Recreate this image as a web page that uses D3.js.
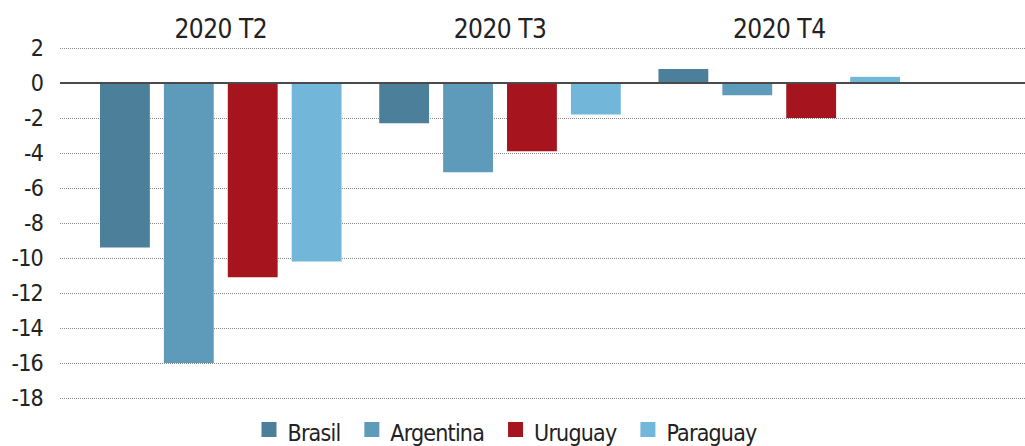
<!DOCTYPE html>
<html>
<head>
<meta charset="utf-8">
<script src="https://cdn.jsdelivr.net/npm/d3@7"></script>
<style>
  body { margin: 0; background: #fff; }
  svg { display: block; }
  text { font-family: "DejaVu Sans Condensed", "DejaVu Sans", sans-serif; fill: #222; }
</style>
</head>
<body>
<svg width="1025" height="446"></svg>
<script>
const quarters = ["2020 T2", "2020 T3", "2020 T4"];
const countries = ["Brasil", "Argentina", "Uruguay", "Paraguay"];
const colors = ["#4c7f99", "#5e9bba", "#a6141d", "#72b7da"];
// values per country, in the order of quarters
const brasil = [-9.4, -2.3, 0.8];
const argentina = [-16.0, -5.1, -0.7];
const uruguay = [-11.1, -3.9, -2.0];
const paraguay = [-10.2, -1.8, 0.35];
const yTicks = [2, 0, -2, -4, -6, -8, -10, -12, -14, -16, -18];

const series = [brasil, argentina, uruguay, paraguay];
const data = [];
quarters.forEach((q, i) => {
  countries.forEach((c, j) => {
    data.push({ quarter: q, country: c, value: series[j][i] });
  });
});

const svg = d3.select("svg");
const width = +svg.attr("width");
const height = +svg.attr("height");
const margin = { top: 48, right: 0, bottom: 48, left: 60 };

const y = d3.scaleLinear()
  .domain([-18, 2])
  .range([height - margin.bottom, margin.top]);

const x0 = d3.scaleBand()
  .domain(quarters)
  .range([100, 900])
  .paddingInner(0.135)
  .paddingOuter(0);

const x1 = d3.scaleBand()
  .domain(countries)
  .range([0, x0.bandwidth()])
  .paddingInner(0.22)
  .paddingOuter(0);

const color = d3.scaleOrdinal().domain(countries).range(colors);

// gridlines + tick labels (plain hyphen, like the original)
const yAxis = svg.append("g")
  .attr("transform", `translate(${margin.left},0)`)
  .call(d3.axisLeft(y)
    .tickValues(yTicks)
    .tickFormat(d => String(d))
    .tickSize(-(width - margin.left))
    .tickPadding(17));
yAxis.select(".domain").remove();
yAxis.selectAll(".tick line")
  .attr("stroke", "#8a8a8a")
  .attr("stroke-width", 1)
  .attr("stroke-dasharray", "1,1")
  .attr("opacity", d => d === 0 ? 0 : 1);
yAxis.selectAll(".tick text")
  .attr("font-size", 23)
  .attr("letter-spacing", -0.8)
  .attr("fill", "#222")
  .style("font-family", '"DejaVu Sans Condensed", "DejaVu Sans", sans-serif');

// bars
svg.append("g")
  .selectAll("rect")
  .data(data)
  .join("rect")
  .attr("x", d => x0(d.quarter) + x1(d.country))
  .attr("y", d => y(Math.max(0, d.value)))
  .attr("width", x1.bandwidth())
  .attr("height", d => Math.abs(y(d.value) - y(0)))
  .attr("fill", d => color(d.country));

// zero line
svg.append("line")
  .attr("x1", margin.left)
  .attr("x2", width)
  .attr("y1", y(0))
  .attr("y2", y(0))
  .attr("stroke", "#4a4a4a")
  .attr("stroke-width", 2);

// quarter labels
svg.append("g")
  .selectAll("text")
  .data(quarters)
  .join("text")
  .attr("x", d => x0(d) + x0.bandwidth() / 2)
  .attr("y", 38)
  .attr("text-anchor", "middle")
  .attr("font-size", 26)
  .attr("letter-spacing", -0.5)
  .text(d => d);

// legend
const legend = svg.append("g");
let lx = 0;
countries.forEach((c, i) => {
  const g = legend.append("g").attr("transform", `translate(${lx},0)`);
  g.append("rect")
    .attr("x", 0)
    .attr("y", 422)
    .attr("width", 15)
    .attr("height", 15)
    .attr("fill", color(c));
  const t = g.append("text")
    .attr("x", 26)
    .attr("y", 441)
    .attr("font-size", 23)
    .attr("letter-spacing", -0.8)
    .text(c);
  lx += 26 + t.node().getComputedTextLength() + 24;
});
const lw = lx - 24;
legend.attr("transform", `translate(${509 - lw / 2},0)`);
</script>
</body>
</html>
